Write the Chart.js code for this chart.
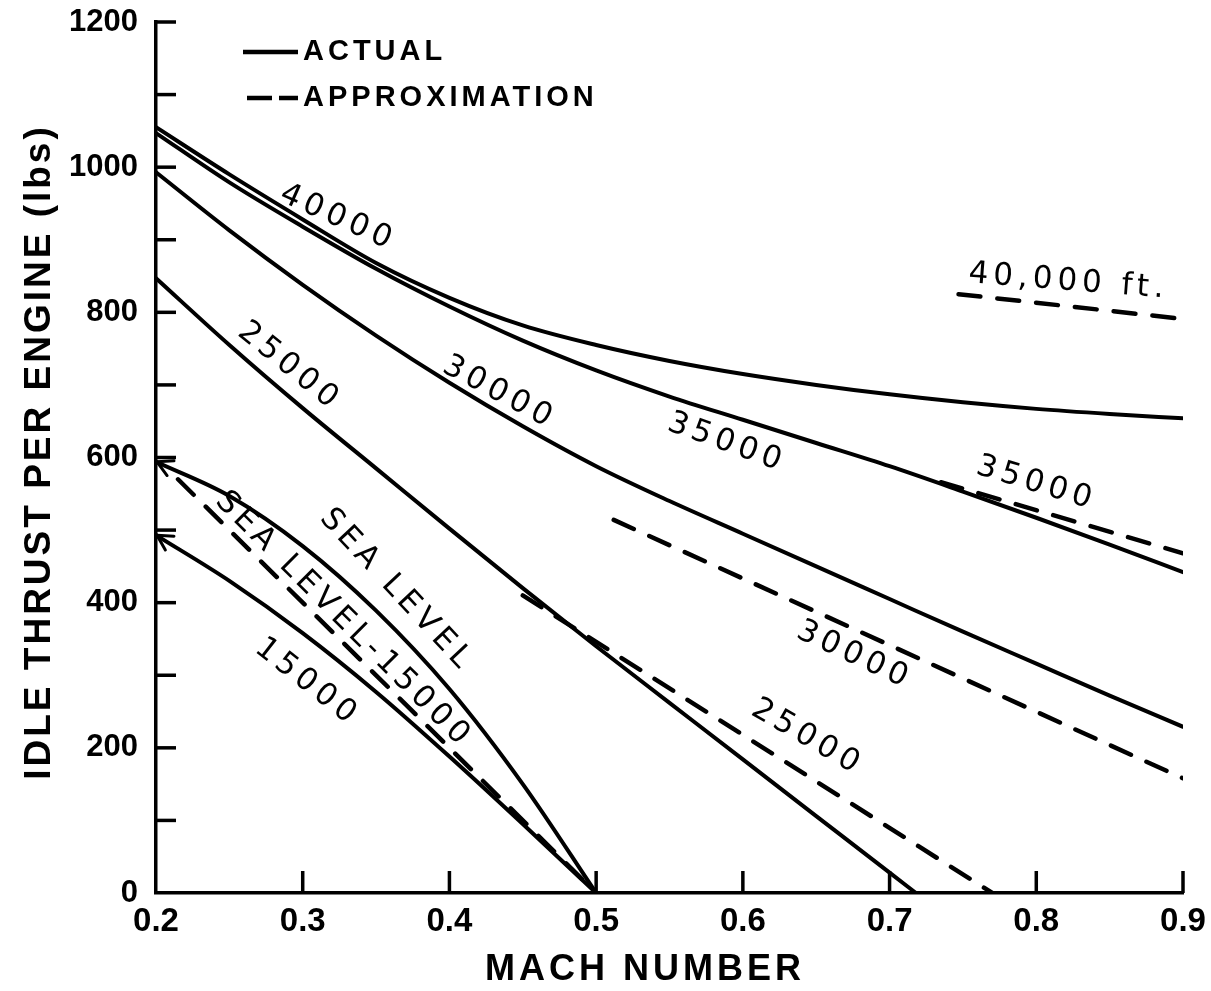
<!DOCTYPE html>
<html>
<head>
<meta charset="utf-8">
<title>Idle thrust per engine vs Mach number</title>
<script src="https://cdn.jsdelivr.net/npm/chart.js@4.4.1/dist/chart.umd.min.js"></script>
<style>
  html, body { margin: 0; padding: 0; background: #ffffff; }
  #wrap { width: 1211px; height: 991px; }
</style>
</head>
<body>
<div id="wrap"><canvas id="thrustChart" width="1211" height="991"></canvas></div>
<script>
// ---- data -------------------------------------------------------------
// Mach grid shared by the high-altitude curves
const machGrid      = [0.20, 0.25, 0.30, 0.35, 0.40, 0.45, 0.50, 0.55, 0.60, 0.65, 0.70, 0.75, 0.80, 0.85, 0.90];
const thrust40000   = [1055, 990, 928, 868, 820, 782, 755, 733, 715, 700, 687, 676, 667, 660, 654];
const thrust35000   = [1047, 979, 918, 860, 808, 761, 720, 684, 652, 620, 588, 553, 517, 480, 442];
const thrust30000   = [993, 913, 838, 768, 703, 643, 588, 540, 495, 450, 405, 360, 316, 272, 229];

const mach25000     = [0.20, 0.25, 0.30, 0.35, 0.40, 0.45, 0.50, 0.55, 0.60, 0.65, 0.70, 0.718];
const thrust25000   = [847, 755, 668, 585, 502, 420, 340, 262, 184, 106, 28, 0];

const machLow        = [0.20, 0.25, 0.30, 0.35, 0.40, 0.45, 0.50];
const thrustSeaLevel = [594, 547, 478, 389, 281, 150, 0];
const thrust15000    = [493, 430, 358, 277, 188, 95, 0];

// straight-line approximations (start, end)
const approxMach40000   = [0.747, 0.90];
const approxThrust40000 = [825, 791];
const approxMach35000   = [0.735, 0.90];
const approxThrust35000 = [566, 468];
const approxMach30000   = [0.512, 0.90];
const approxThrust30000 = [514, 158];
const approxMach25000   = [0.45, 0.77];
const approxThrust25000 = [410, 0];
const approxMachSL15    = [0.215, 0.50];
const approxThrustSL15  = [570, 0];

// axis ticks
const machTicks   = [0.2, 0.3, 0.4, 0.5, 0.6, 0.7, 0.8, 0.9];
const thrustTicks = [0, 200, 400, 600, 800, 1000, 1200];

// ---- styling ----------------------------------------------------------
const INK = '#000000';
const SANS = '"Liberation Sans", Arial, sans-serif';
const LETTER = '"DejaVu Sans", "Liberation Sans", sans-serif';

function toPoints(xs, ys) { return xs.map((x, i) => ({ x: x, y: ys[i] })); }

function solidCurve(label, xs, ys) {
  return {
    label: label, data: toPoints(xs, ys),
    borderColor: INK, borderWidth: 4, pointRadius: 0, fill: false,
    cubicInterpolationMode: 'monotone', borderCapStyle: 'round'
  };
}
function dashedLine(label, xs, ys) {
  return {
    label: label, data: toPoints(xs, ys),
    borderColor: INK, borderWidth: 4.5, pointRadius: 0, fill: false,
    borderDash: [22, 17], borderCapStyle: 'round', tension: 0
  };
}

// curve captions, placed in data coordinates
const curveCaptions = [
  { text: '40000',            mach: 0.324, thrust: 930, angle: 24 },
  { text: '30000',            mach: 0.434, thrust: 689, angle: 28 },
  { text: '25000',            mach: 0.291, thrust: 725, angle: 39 },
  { text: '35000',            mach: 0.589, thrust: 620, angle: 20 },
  { text: 'SEA LEVEL',        mach: 0.364, thrust: 417, angle: 47 },
  { text: 'SEA LEVEL-15000',  mach: 0.328, thrust: 376, angle: 45 },
  { text: '15000',            mach: 0.303, thrust: 290, angle: 38 },
  { text: '40,000 ft.',       mach: 0.822, thrust: 842, angle: 4.5 },
  { text: '35000',            mach: 0.800, thrust: 564, angle: 17 },
  { text: '30000',            mach: 0.676, thrust: 327, angle: 25 },
  { text: '25000',            mach: 0.644, thrust: 214, angle: 30 }
];

// ---- decorations drawn on top of the library output -------------------
const chartDecor = {
  id: 'chartDecor',
  afterDraw(chart) {
    const ctx = chart.ctx;
    const area = chart.chartArea;
    const xs = chart.scales.x;
    const ys = chart.scales.y;
    ctx.save();
    ctx.strokeStyle = INK;
    ctx.fillStyle = INK;

    // inward tick marks on both axes
    ctx.lineWidth = 3.5;
    ctx.lineCap = 'butt';
    xs.ticks.forEach(t => {
      if (Math.abs(t.value - 0.2) < 1e-6) return;
      const px = xs.getPixelForValue(t.value);
      ctx.beginPath();
      ctx.moveTo(px, area.bottom);
      ctx.lineTo(px, area.bottom - 22);
      ctx.stroke();
    });
    ys.ticks.forEach(t => {
      if (t.value === 0) return;
      const py = ys.getPixelForValue(t.value);
      ctx.beginPath();
      ctx.moveTo(area.left, py);
      ctx.lineTo(area.left + 20, py);
      ctx.stroke();
    });

    // arrowheads where the low-altitude curves meet the thrust axis
    ctx.lineWidth = 3;
    ctx.lineCap = 'round';
    chart.data.datasets.forEach((ds, i) => {
      if (!ds.arrowStart) return;
      const pts = chart.getDatasetMeta(i).data;
      const p0 = pts[0], p1 = pts[1];
      const dir = Math.atan2(p1.y - p0.y, p1.x - p0.x);
      [-0.5, 0.5].forEach(off => {
        ctx.beginPath();
        ctx.moveTo(p0.x + 1, p0.y);
        ctx.lineTo(p0.x + 1 + 17 * Math.cos(dir + off), p0.y + 17 * Math.sin(dir + off));
        ctx.stroke();
      });
    });

    // curve captions
    ctx.font = '31px ' + LETTER;
    ctx.textAlign = 'center';
    ctx.textBaseline = 'middle';
    curveCaptions.forEach(c => {
      const px = xs.getPixelForValue(c.mach);
      const py = ys.getPixelForValue(c.thrust);
      ctx.save();
      ctx.translate(px, py);
      ctx.rotate(c.angle * Math.PI / 180);
      ctx.letterSpacing = '5px';
      ctx.fillText(c.text, 0, 0);
      ctx.restore();
    });

    // key
    ctx.lineCap = 'butt';
    ctx.lineWidth = 4.5;
    ctx.beginPath();
    ctx.moveTo(243, 52); ctx.lineTo(298, 52);
    ctx.stroke();
    ctx.beginPath();
    ctx.moveTo(247, 98); ctx.lineTo(272, 98);
    ctx.moveTo(279, 98); ctx.lineTo(298, 98);
    ctx.stroke();
    ctx.font = 'bold 29px ' + SANS;
    ctx.textAlign = 'left';
    ctx.letterSpacing = '4px';
    ctx.fillText('ACTUAL', 303, 52);
    ctx.fillText('APPROXIMATION', 303, 98);

    // axis titles
    ctx.font = 'bold 36px ' + SANS;
    ctx.textAlign = 'center';
    ctx.letterSpacing = '4px';
    ctx.fillText('MACH NUMBER', 645, 970);

    ctx.save();
    ctx.translate(40, 452);
    ctx.rotate(-Math.PI / 2);
    ctx.font = 'bold 37px ' + SANS;
    ctx.letterSpacing = '3px';
    ctx.fillText('IDLE THRUST PER ENGINE (lbs)', 0, 0);
    ctx.restore();

    ctx.restore();
  }
};

// ---- chart ------------------------------------------------------------
const datasets = [
  solidCurve('40000', machGrid, thrust40000),
  solidCurve('35000', machGrid, thrust35000),
  solidCurve('30000', machGrid, thrust30000),
  solidCurve('25000', mach25000, thrust25000),
  Object.assign(solidCurve('SEA LEVEL', machLow, thrustSeaLevel), { arrowStart: true }),
  Object.assign(solidCurve('15000', machLow, thrust15000), { arrowStart: true }),
  dashedLine('40,000 ft. approx.', approxMach40000, approxThrust40000),
  dashedLine('35000 approx.', approxMach35000, approxThrust35000),
  dashedLine('30000 approx.', approxMach30000, approxThrust30000),
  dashedLine('25000 approx.', approxMach25000, approxThrust25000),
  dashedLine('SEA LEVEL-15000 approx.', approxMachSL15, approxThrustSL15)
];

new Chart(document.getElementById('thrustChart'), {
  type: 'line',
  data: { datasets: datasets },
  plugins: [chartDecor],
  options: {
    responsive: false,
    animation: false,
    events: [],
    layout: { padding: { top: 22, right: 28, bottom: 0, left: 0 } },
    plugins: { legend: { display: false }, tooltip: { enabled: false }, title: { display: false } },
    scales: {
      x: {
        type: 'linear',
        min: machTicks[0],
        max: machTicks[machTicks.length - 1],
        afterBuildTicks(scale) { scale.ticks = machTicks.map(v => ({ value: v })); },
        ticks: {
          color: INK, padding: 9, autoSkip: false, maxRotation: 0,
          font: { family: SANS, weight: 'bold', size: 33 },
          callback: v => Number(v).toFixed(1)
        },
        grid: { drawOnChartArea: false, drawTicks: false },
        border: { color: INK, width: 3.5 },
        afterFit(scale) {
          scale.height = 98;
          scale.paddingLeft = 0;
          scale.paddingRight = 0;
        }
      },
      y: {
        min: 0,
        max: 1200,
        afterBuildTicks(scale) {
          const all = [];
          for (let v = 0; v <= 1200; v += 100) all.push({ value: v });
          scale.ticks = all;
        },
        ticks: {
          color: INK, padding: 18, autoSkip: false,
          font: { family: SANS, weight: 'bold', size: 31 },
          callback: v => thrustTicks.includes(v) ? String(v) : ''
        },
        grid: { drawOnChartArea: false, drawTicks: false },
        border: { color: INK, width: 3.5 },
        afterFit(scale) {
          scale.width = 156;
          scale.paddingTop = 0;
          scale.paddingBottom = 0;
        }
      }
    }
  }
});
</script>
</body>
</html>
